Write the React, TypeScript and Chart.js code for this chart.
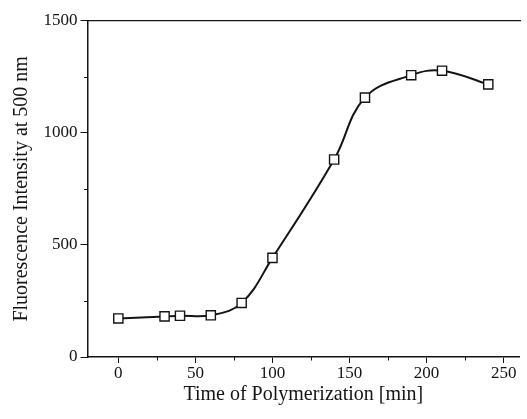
import React, { useEffect, useRef } from "react";
import { Chart, registerables } from "chart.js";

Chart.register(...registerables);

const timeMin = [0, 30, 40, 60, 80, 100, 140, 160, 190, 210, 240];
const intensity = [172, 181, 184, 186, 241, 442, 881, 1157, 1257, 1277, 1216];
const xMajorStep = 50;
const yMajorStep = 500;

const FONT = "'Liberation Serif', 'DejaVu Serif', serif";
const INK = "#141414";

const axisExtras = {
  id: "axisExtras",
  afterDraw(chart: any) {
    const { ctx, chartArea, scales } = chart;
    ctx.save();
    ctx.strokeStyle = INK;
    ctx.lineWidth = 1.2;
    ctx.beginPath();
    ctx.moveTo(chartArea.left, chartArea.top);
    ctx.lineTo(chartArea.right + 2, chartArea.top);
    ctx.stroke();
    ctx.lineWidth = 1;
    const xs = scales.x;
    xs.ticks.forEach((t: any) => {
      if (t.value % xMajorStep !== 0) {
        const px = Math.round(xs.getPixelForValue(t.value)) + 0.5;
        ctx.beginPath();
        ctx.moveTo(px, chartArea.bottom);
        ctx.lineTo(px, chartArea.bottom + 3.5);
        ctx.stroke();
      }
    });
    const ys = scales.y;
    ys.ticks.forEach((t: any) => {
      if (t.value % yMajorStep !== 0) {
        const py = Math.round(ys.getPixelForValue(t.value)) + 0.5;
        ctx.beginPath();
        ctx.moveTo(chartArea.left, py);
        ctx.lineTo(chartArea.left - 3.5, py);
        ctx.stroke();
      }
    });
    ctx.restore();
  },
};

export default function App() {
  const ref = useRef<HTMLCanvasElement | null>(null);
  useEffect(() => {
    if (!ref.current) return;
    const chart = new Chart(ref.current, {
      type: "line",
      data: {
        datasets: [
          {
            data: timeMin.map((t, i) => ({ x: t, y: intensity[i] })),
            borderColor: INK,
            borderWidth: 2,
            tension: 0.4,
            pointStyle: "rect",
            pointRadius: 6.5,
            pointBorderWidth: 1.4,
            pointBorderColor: INK,
            pointBackgroundColor: "#ffffff",
            fill: false,
          },
        ],
      },
      options: {
        animation: false,
        responsive: true,
        maintainAspectRatio: false,
        layout: { padding: { top: 20.7, right: 0, left: 0, bottom: 0 } },
        plugins: { legend: { display: false }, tooltip: { enabled: false } },
        scales: {
          x: {
            type: "linear",
            min: -20,
            max: 260,
            grid: {
              drawOnChartArea: false,
              tickLength: 6,
              tickColor: (c: any) =>
                c.tick && c.tick.value % xMajorStep === 0 ? INK : "rgba(0,0,0,0)",
            },
            border: { color: INK, width: 1.5 },
            ticks: {
              stepSize: 25,
              includeBounds: false,
              autoSkip: false,
              maxRotation: 0,
              padding: 0,
              color: INK,
              font: { family: FONT, size: 17 },
              callback: (v: any) => (Number(v) % xMajorStep === 0 ? String(v) : ""),
            },
            title: {
              display: true,
              text: "Time of Polymerization [min]",
              color: INK,
              font: { family: FONT, size: 20 },
              padding: { top: 0, bottom: 12 },
            },
            afterFit: (s: any) => {
              s.height = 62;
            },
          },
          y: {
            type: "linear",
            min: 0,
            max: 1500,
            grid: {
              drawOnChartArea: false,
              tickLength: 7,
              tickColor: (c: any) =>
                c.tick && c.tick.value % yMajorStep === 0 ? INK : "rgba(0,0,0,0)",
            },
            border: { color: INK, width: 1.5 },
            ticks: {
              stepSize: 250,
              autoSkip: false,
              padding: 3,
              color: INK,
              font: { family: FONT, size: 17 },
              callback: (v: any) => (Number(v) % yMajorStep === 0 ? String(v) : ""),
            },
            title: {
              display: true,
              text: "Fluorescence Intensity at 500 nm",
              color: INK,
              font: { family: FONT, size: 20 },
              padding: { top: 10, bottom: 0 },
            },
            afterFit: (s: any) => {
              s.width = 87.5;
            },
          },
        },
      },
      plugins: [axisExtras],
    });
    return () => chart.destroy();
  }, []);
  return (
    <div style={{ position: "fixed", left: 0, top: 0, width: 527, height: 419, background: "#fff" }}>
      <canvas ref={ref} />
    </div>
  );
}
